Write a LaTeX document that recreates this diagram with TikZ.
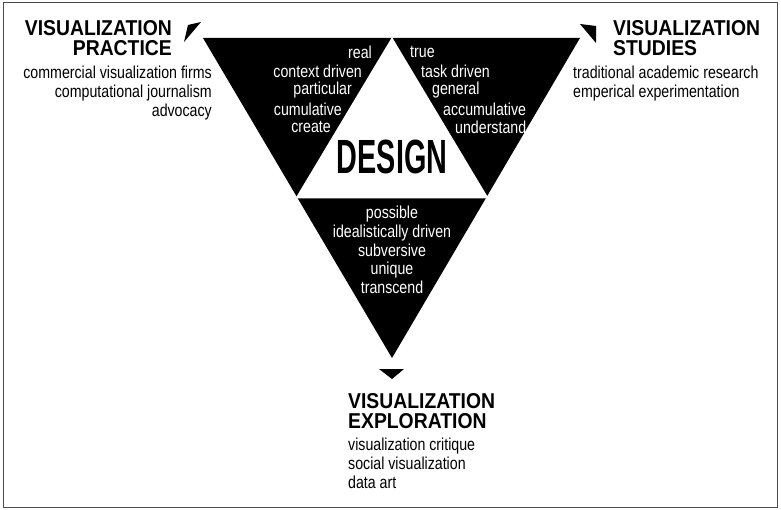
\documentclass[tikz,border=0pt]{standalone}
\usepackage{fontspec}
\setmainfont{Liberation Sans}[FakeStretch=0.82]
\newfontfamily\titlef{Liberation Sans}[FakeStretch=0.9]
\newfontfamily\bigf{Liberation Sans}[FakeStretch=0.6]
\begin{document}
\begin{tikzpicture}[x=1pt,y=-1pt,
  body/.style={font=\fontsize{17.3}{18.7}\selectfont,inner sep=0pt},
  wbody/.style={body,text=white},
  ttl/.style={font=\titlef\bfseries\fontsize{21.5}{20}\selectfont,inner sep=0pt},
  pointer/.style={fill=black}]
\useasboundingbox (0,0) rectangle (781,510);
\draw[line width=1pt,black!70] (3,3) rectangle (777,507);
% main triangle
\fill[black] (203,38) -- (580,38) -- (392,358) -- cycle;
\filldraw[white,line width=3pt,line join=miter] (392,40) -- (486,197) -- (298,197) -- cycle;
% marks
\fill[pointer] (188,25) -- (201,22) -- (184,42) -- cycle;
\fill[pointer] (580,24) -- (596,26) -- (596,43) -- cycle;
\fill[pointer] (379,369) -- (404,369) -- (392,379) -- cycle;
% DESIGN
\node[font=\bigf\bfseries\fontsize{48}{48}\selectfont,inner sep=0pt] (design) at (392,157) {DESIGN};
% inner texts
\node[wbody,anchor=east] (l1) at (372,52) {real};
\node[wbody,anchor=east] (l2) at (362,71) {context driven};
\node[wbody,anchor=east] (l3) at (352,90) {particular};
\node[wbody,anchor=east] (l4) at (342,109) {cumulative};
\node[wbody,anchor=east] (l5) at (331,127) {create};
\node[wbody,anchor=west] (r1) at (410,52) {true};
\node[wbody,anchor=west] (r2) at (421,71) {task driven};
\node[wbody,anchor=west] (r3) at (432,90) {general};
\node[wbody,anchor=west] (r4) at (443,109) {accumulative};
\node[wbody,anchor=west] (r5) at (455,127) {understand};
\node[wbody,align=center,anchor=north] (b) at (392,206) {possible\\idealistically driven\\subversive\\unique\\transcend};
% corner labels
\node[ttl,align=right,anchor=north east] (pt) at (172,20) {VISUALIZATION\\PRACTICE};
\node[body,align=right,anchor=north east] (pb) at (212,66) {commercial visualization firms\\computational journalism\\advocacy};
\node[ttl,align=left,anchor=north west] (st) at (613,20) {VISUALIZATION\\STUDIES};
\node[body,align=left,anchor=north west] (sb) at (573,66) {traditional academic research\\emperical experimentation};
\node[ttl,align=left,anchor=north west] (et) at (348,393) {VISUALIZATION\\EXPLORATION};
\node[body,align=left,anchor=north west] (eb) at (348,438) {visualization critique\\social visualization\\data art};
\end{tikzpicture}
\end{document}
